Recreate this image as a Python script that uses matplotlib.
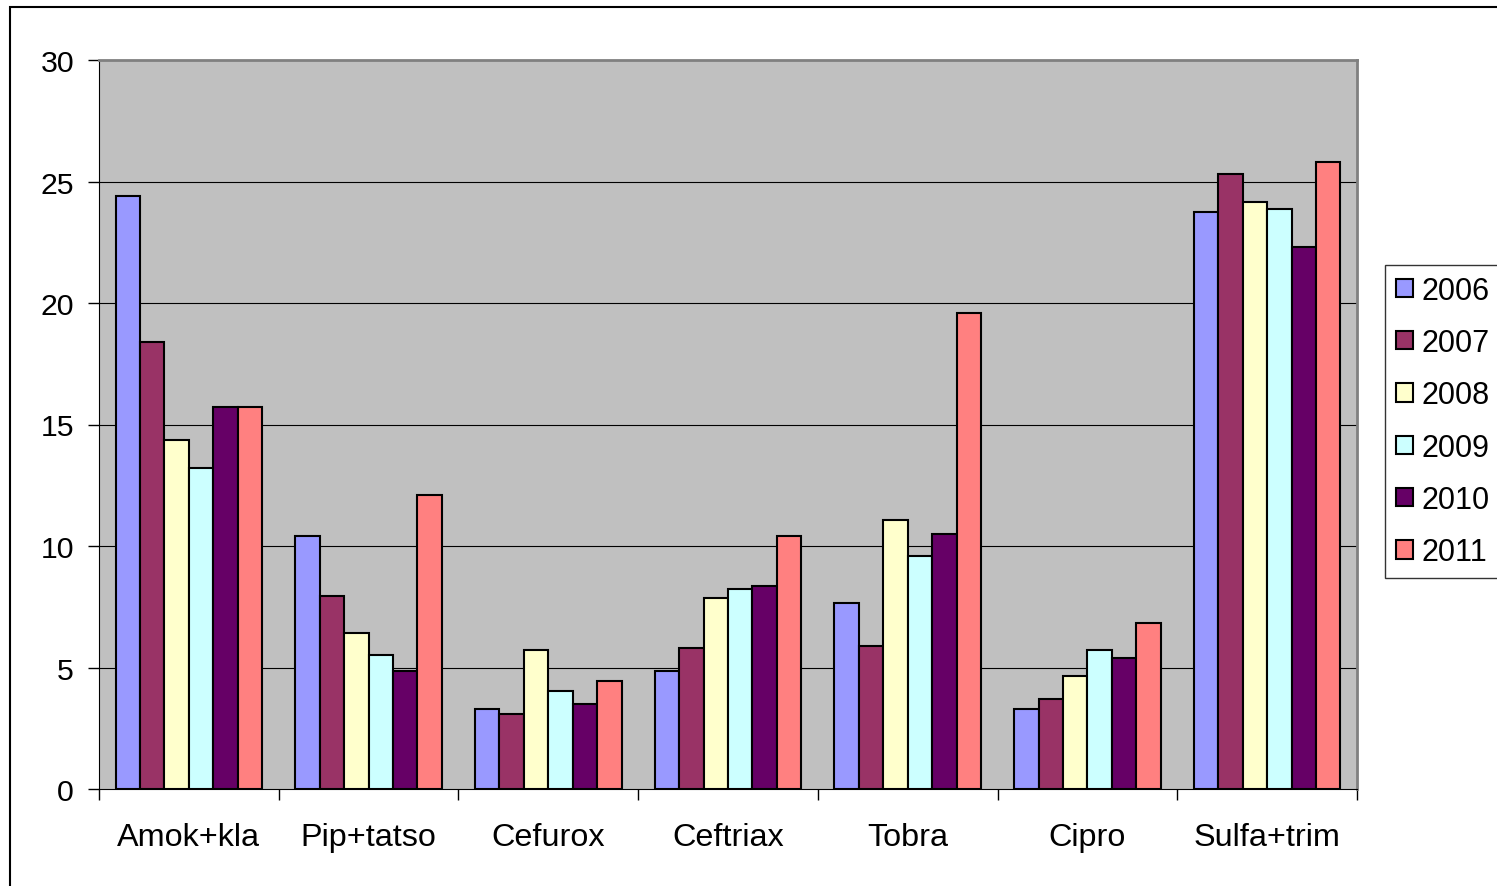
import numpy as np
import matplotlib
matplotlib.use("Agg")
import matplotlib.pyplot as plt
from matplotlib.patches import Rectangle

plt.rcParams['font.family'] = ['Liberation Sans', 'DejaVu Sans']

categories = ["Amok+kla", "Pip+tatso", "Cefurox", "Ceftriax", "Tobra", "Cipro", "Sulfa+trim"]
years = ["2006", "2007", "2008", "2009", "2010", "2011"]

v2006 = [24.4, 10.4, 3.3, 4.85, 7.65, 3.3, 23.75]
v2007 = [18.4, 7.95, 3.1, 5.8, 5.9, 3.7, 25.3]
v2008 = [14.35, 6.4, 5.7, 7.85, 11.05, 4.65, 24.15]
v2009 = [13.2, 5.5, 4.05, 8.25, 9.6, 5.7, 23.85]
v2010 = [15.7, 4.85, 3.5, 8.35, 10.5, 5.4, 22.3]
v2011 = [15.7, 12.1, 4.45, 10.4, 19.6, 6.85, 25.8]

colors = ["#9999FF", "#993366", "#FFFFCC", "#CCFFFF", "#660066", "#FF8080"]

series = [v2006, v2007, v2008, v2009, v2010, v2011]

fig = plt.figure(figsize=(14.97, 8.87), dpi=100)
ax = fig.add_axes([99/1497, 1-790/887, 1258/1497, 729/887])
ax.set_facecolor("#C0C0C0")

x = np.arange(len(categories))
w = 0.136
for j, vals in enumerate(series):
    ax.bar(x + (j-2.5)*w, vals, width=w, color=colors[j], edgecolor="black",
           linewidth=1.5, label=years[j], zorder=3)

ax.set_xlim(-0.5, 6.5)
ax.set_ylim(0, 30)
ax.set_yticks([0, 5, 10, 15, 20, 25, 30])
for yv in [5, 10, 15, 20, 25]:
    ax.axhline(yv, color="black", linewidth=0.8, zorder=1)

ax.set_xticks(np.arange(-0.5, 7, 1))
ax.set_xticklabels([])
ax.set_xticks(x, minor=True)
ax.set_xticklabels(categories, minor=True, fontsize=23.3)
ax.tick_params(axis='x', which='major', length=8, width=1, direction='out')
ax.tick_params(axis='x', which='minor', length=0, pad=23.5)
ax.tick_params(axis='y', length=8, width=1, direction='out', labelsize=21.8, pad=10)

for s in ["top", "right"]:
    ax.spines[s].set_color("#808080")
    ax.spines[s].set_linewidth(2)
ax.spines["left"].set_color("black")
ax.spines["bottom"].set_color("black")

leg = fig.legend(loc="upper left", bbox_to_anchor=(1385/1497, 1-266/887),
                 fontsize=22, frameon=True, fancybox=False, edgecolor="black",
                 handlelength=0.55, handleheight=0.55, handletextpad=0.3,
                 labelspacing=0.73, borderaxespad=0, borderpad=0.35)
leg.get_frame().set_linewidth(1)

fig.patches.append(Rectangle((10/1497, -0.1), 1.2, 1-8/887+0.1, transform=fig.transFigure,
                             fill=False, edgecolor="black", linewidth=1.5))

fig.savefig("out.png", dpi=100)
